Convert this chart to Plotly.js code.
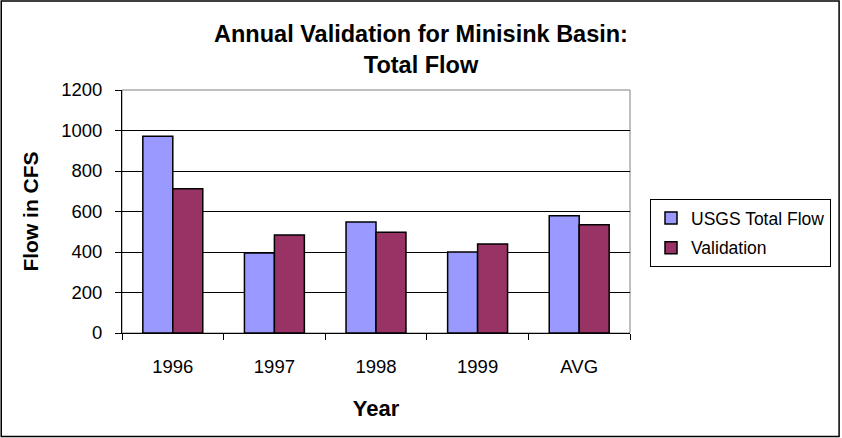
<!DOCTYPE html>
<html>
<head>
<meta charset="utf-8">
<script src="https://cdn.plot.ly/plotly-3.0.1.min.js"></script>
<style>html,body{margin:0;padding:0;background:#fff;}#chart{width:842px;height:438px;}</style>
</head>
<body>
<div id="chart"></div>
<script>
const categories = ["1996", "1997", "1998", "1999", "AVG"];
const usgsTotalFlow = [971, 395, 548, 400, 579];
const validation = [712, 484, 497, 439, 535];
const seriesNames = ["USGS Total Flow", "Validation"];
const yTicks = [0, 200, 400, 600, 800, 1000, 1200];

const FONT = "Liberation Sans, Arial, sans-serif";
const L = 122, R = 631, T = 90, B = 333, W = 842, H = 438;
const pw = R - L, ph = B - T;
const px = v => (v - L) / pw;
const py = v => (B - v) / ph;

const traces = [
  {type: "bar", name: seriesNames[0], x: categories, y: usgsTotalFlow, legendgroup: "a",
   marker: {color: "#9999FF", line: {color: "#000000", width: 1.5}}},
  {type: "bar", name: seriesNames[1], x: categories, y: validation, legendgroup: "b",
   marker: {color: "#993366", line: {color: "#000000", width: 1.5}}}
];

const layout = {
  width: W, height: H,
  margin: {l: L, r: W - R, t: T, b: H - B, pad: 0},
  paper_bgcolor: "#ffffff", plot_bgcolor: "#ffffff",
  font: {family: FONT, color: "#000000", size: 18},
  barmode: "group", bargap: 0.41, bargroupgap: 0,
  title: {text: "<b>Annual Validation for Minisink Basin:<br>Total Flow</b>",
          font: {family: FONT, size: 23.5, color: "#000"},
          x: 0.5, xref: "container", y: 1 - 42 / H, yref: "container", yanchor: "middle"},
  xaxis: {type: "category", showgrid: false, showline: true, linecolor: "#000", linewidth: 1,
          ticks: "outside", tickson: "boundaries", ticklen: 6, tickcolor: "#000",
          tickfont: {family: FONT, size: 18.5}, ticklabelstandoff: 17,
          title: {text: "<b>Year</b>", font: {family: FONT, size: 22}, standoff: 24}},
  yaxis: {range: [0, 1200], tickvals: yTicks, showgrid: true, gridcolor: "#000", gridwidth: 1,
          showline: true, linecolor: "#000", linewidth: 1, zeroline: false,
          ticks: "outside", ticklen: 6, tickcolor: "#000",
          tickfont: {family: FONT, size: 18.5}, ticklabelstandoff: 9,
          title: {text: "<b>Flow in CFS</b>", font: {family: FONT, size: 21}, standoff: 16}},
  legend: {x: px(650), y: py(199), xanchor: "left", yanchor: "top",
           bordercolor: "#000", borderwidth: 1, bgcolor: "#fff", traceorder: "grouped",
           font: {family: FONT, size: 17.5}, itemwidth: 30, tracegroupgap: 4},
  shapes: [
    {type: "rect", xref: "paper", yref: "paper", x0: 0, x1: 1, y0: 0, y1: 1,
     line: {color: "#808080", width: 1}, layer: "below"},
    {type: "rect", xref: "paper", yref: "paper", x0: px(1), x1: px(840.5), y0: py(436.5), y1: py(1),
     line: {color: "#000", width: 1.5}}
  ]
};

Plotly.newPlot("chart", traces, layout, {displayModeBar: false, staticPlot: true});
</script>
</body>
</html>
